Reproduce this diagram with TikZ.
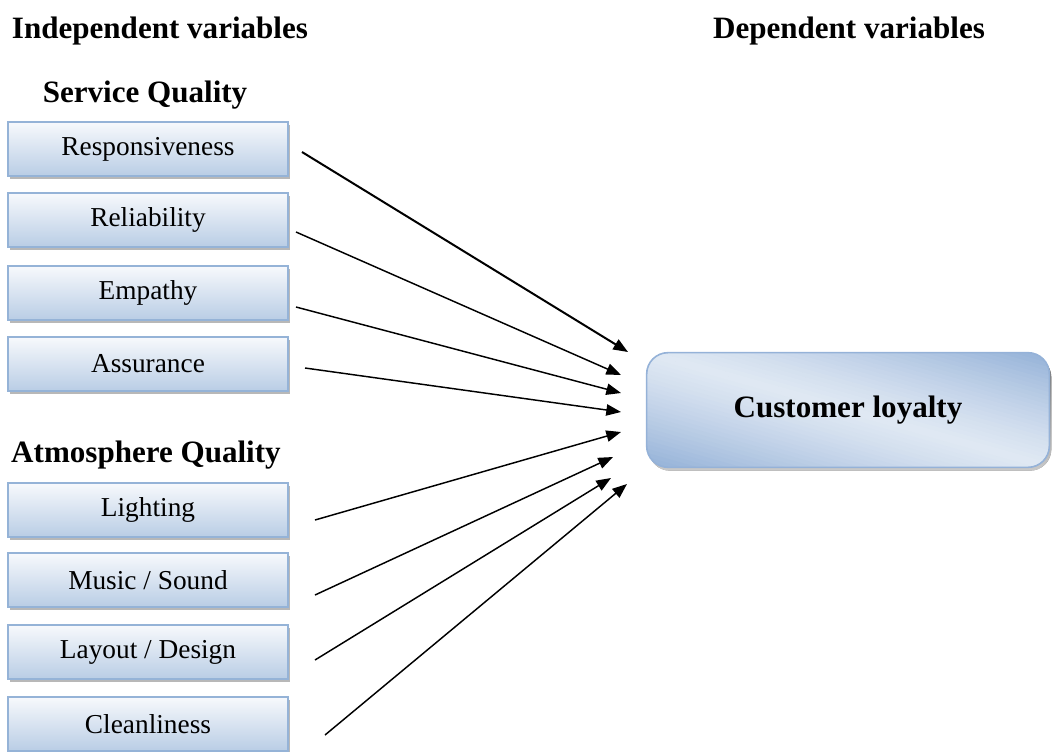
\documentclass[tikz,border=0pt]{standalone}
\usepackage{fontspec}
\setmainfont{Liberation Serif}
\usetikzlibrary{arrows.meta,calc,backgrounds}

\definecolor{boxedge}{HTML}{95B3D7}
\definecolor{boxtop}{HTML}{F7F9FC}
\definecolor{boxbot}{HTML}{B9CDE5}
\definecolor{bigedge}{HTML}{95B2D8}
\definecolor{bigmid}{HTML}{DFE8F3}
\definecolor{shade}{HTML}{9A9A9A}

\tikzset{
  factor/.style={draw=boxedge, line width=1.2pt, top color=boxtop, bottom color=boxbot,
    minimum width=210pt, minimum height=40.5pt, inner sep=0pt,
    font=\fontsize{20.5}{24}\selectfont,
    preaction={fill=shade, opacity=0.7, transform canvas={shift={(1.5pt,-2.2pt)}}}},
  outcome/.style={draw=bigedge, line width=1.2pt, rounded corners=16pt, outer sep=0pt,
    minimum width=302pt, minimum height=86pt, inner sep=0pt,
    font=\bfseries\fontsize{23.3}{27}\selectfont},
  heading/.style={font=\bfseries\fontsize{23.3}{27}\selectfont, inner sep=0pt},
  link/.style={line width=1.1pt, -{Triangle[length=11pt,width=8.5pt]}}
}

\begin{document}
\begin{tikzpicture}[x=0.75pt,y=-0.75pt]
\useasboundingbox (0,0) rectangle (1054,751);

% headings
\node[heading] (indep) at (160,31) {Independent variables};
\node[heading] (dep) at (849,31) {Dependent variables};
\node[heading] (sq) at (145,95) {Service Quality};
\node[heading] (aq) at (146,455) {Atmosphere Quality};

% independent factors
\node[factor] (resp) at (148,149) {Responsiveness};
\node[factor] (reli) at (148,220) {Reliability};
\node[factor] (emp)  at (148,293) {Empathy};
\node[factor] (ass)  at (148,364) {Assurance};
\node[factor] (light) at (148,510) {Lighting};
\node[factor] (music) at (148,580) {Music / Sound};
\node[factor] (lay)   at (148,652) {Layout / Design};
\node[factor] (clean) at (148,724) {Cleanliness};

% dependent variable
\node[outcome] (loyal) at (848,410) {Customer loyalty};

% its fill: drop shadow, then a light band from the top left corner to the bottom right one
\begin{pgfonlayer}{background}
  \fill[shade, opacity=0.7, rounded corners=16pt, transform canvas={shift={(1.5pt,-2.5pt)}}]
    (loyal.south west) rectangle (loyal.north east);
  \begin{scope}
    \clip[rounded corners=16pt] (loyal.south west) rectangle (loyal.north east);
    \begin{scope}[shift={(loyal.center)}, rotate=-15.8]
      \foreach \u in {-124,-120,...,120}{
        \pgfmathsetmacro\t{100*min(1,abs(\u+2)/108)^1.25}
        \fill[bigedge!\t!bigmid] (-320,\u) rectangle (320,\u+4.6);
      }
    \end{scope}
  \end{scope}
\end{pgfonlayer}

% arrow start points (free ends beside the factor boxes)
\coordinate (s1) at (302,152);
\coordinate (s2) at (296,232);
\coordinate (s3) at (296,307);
\coordinate (s4) at (305,368);
\coordinate (s5) at (315,520);
\coordinate (s6) at (315,595);
\coordinate (s7) at (315,660);
\coordinate (s8) at (325,735);

% arrow tips (free ends short of the outcome box)
\coordinate (t1) at (628,352);
\coordinate (t2) at (621,375);
\coordinate (t3) at (621,393);
\coordinate (t4) at (621,412);
\coordinate (t5) at (621,432);
\coordinate (t6) at (613,457);
\coordinate (t7) at (611,478);
\coordinate (t8) at (627,484);

\draw[link, line width=1.5pt] (s1) -- (t1);
\draw[link] (s2) -- (t2);
\draw[link] (s3) -- (t3);
\draw[link] (s4) -- (t4);
\draw[link] (s5) -- (t5);
\draw[link] (s6) -- (t6);
\draw[link] (s7) -- (t7);
\draw[link] (s8) -- (t8);
\end{tikzpicture}
\end{document}
